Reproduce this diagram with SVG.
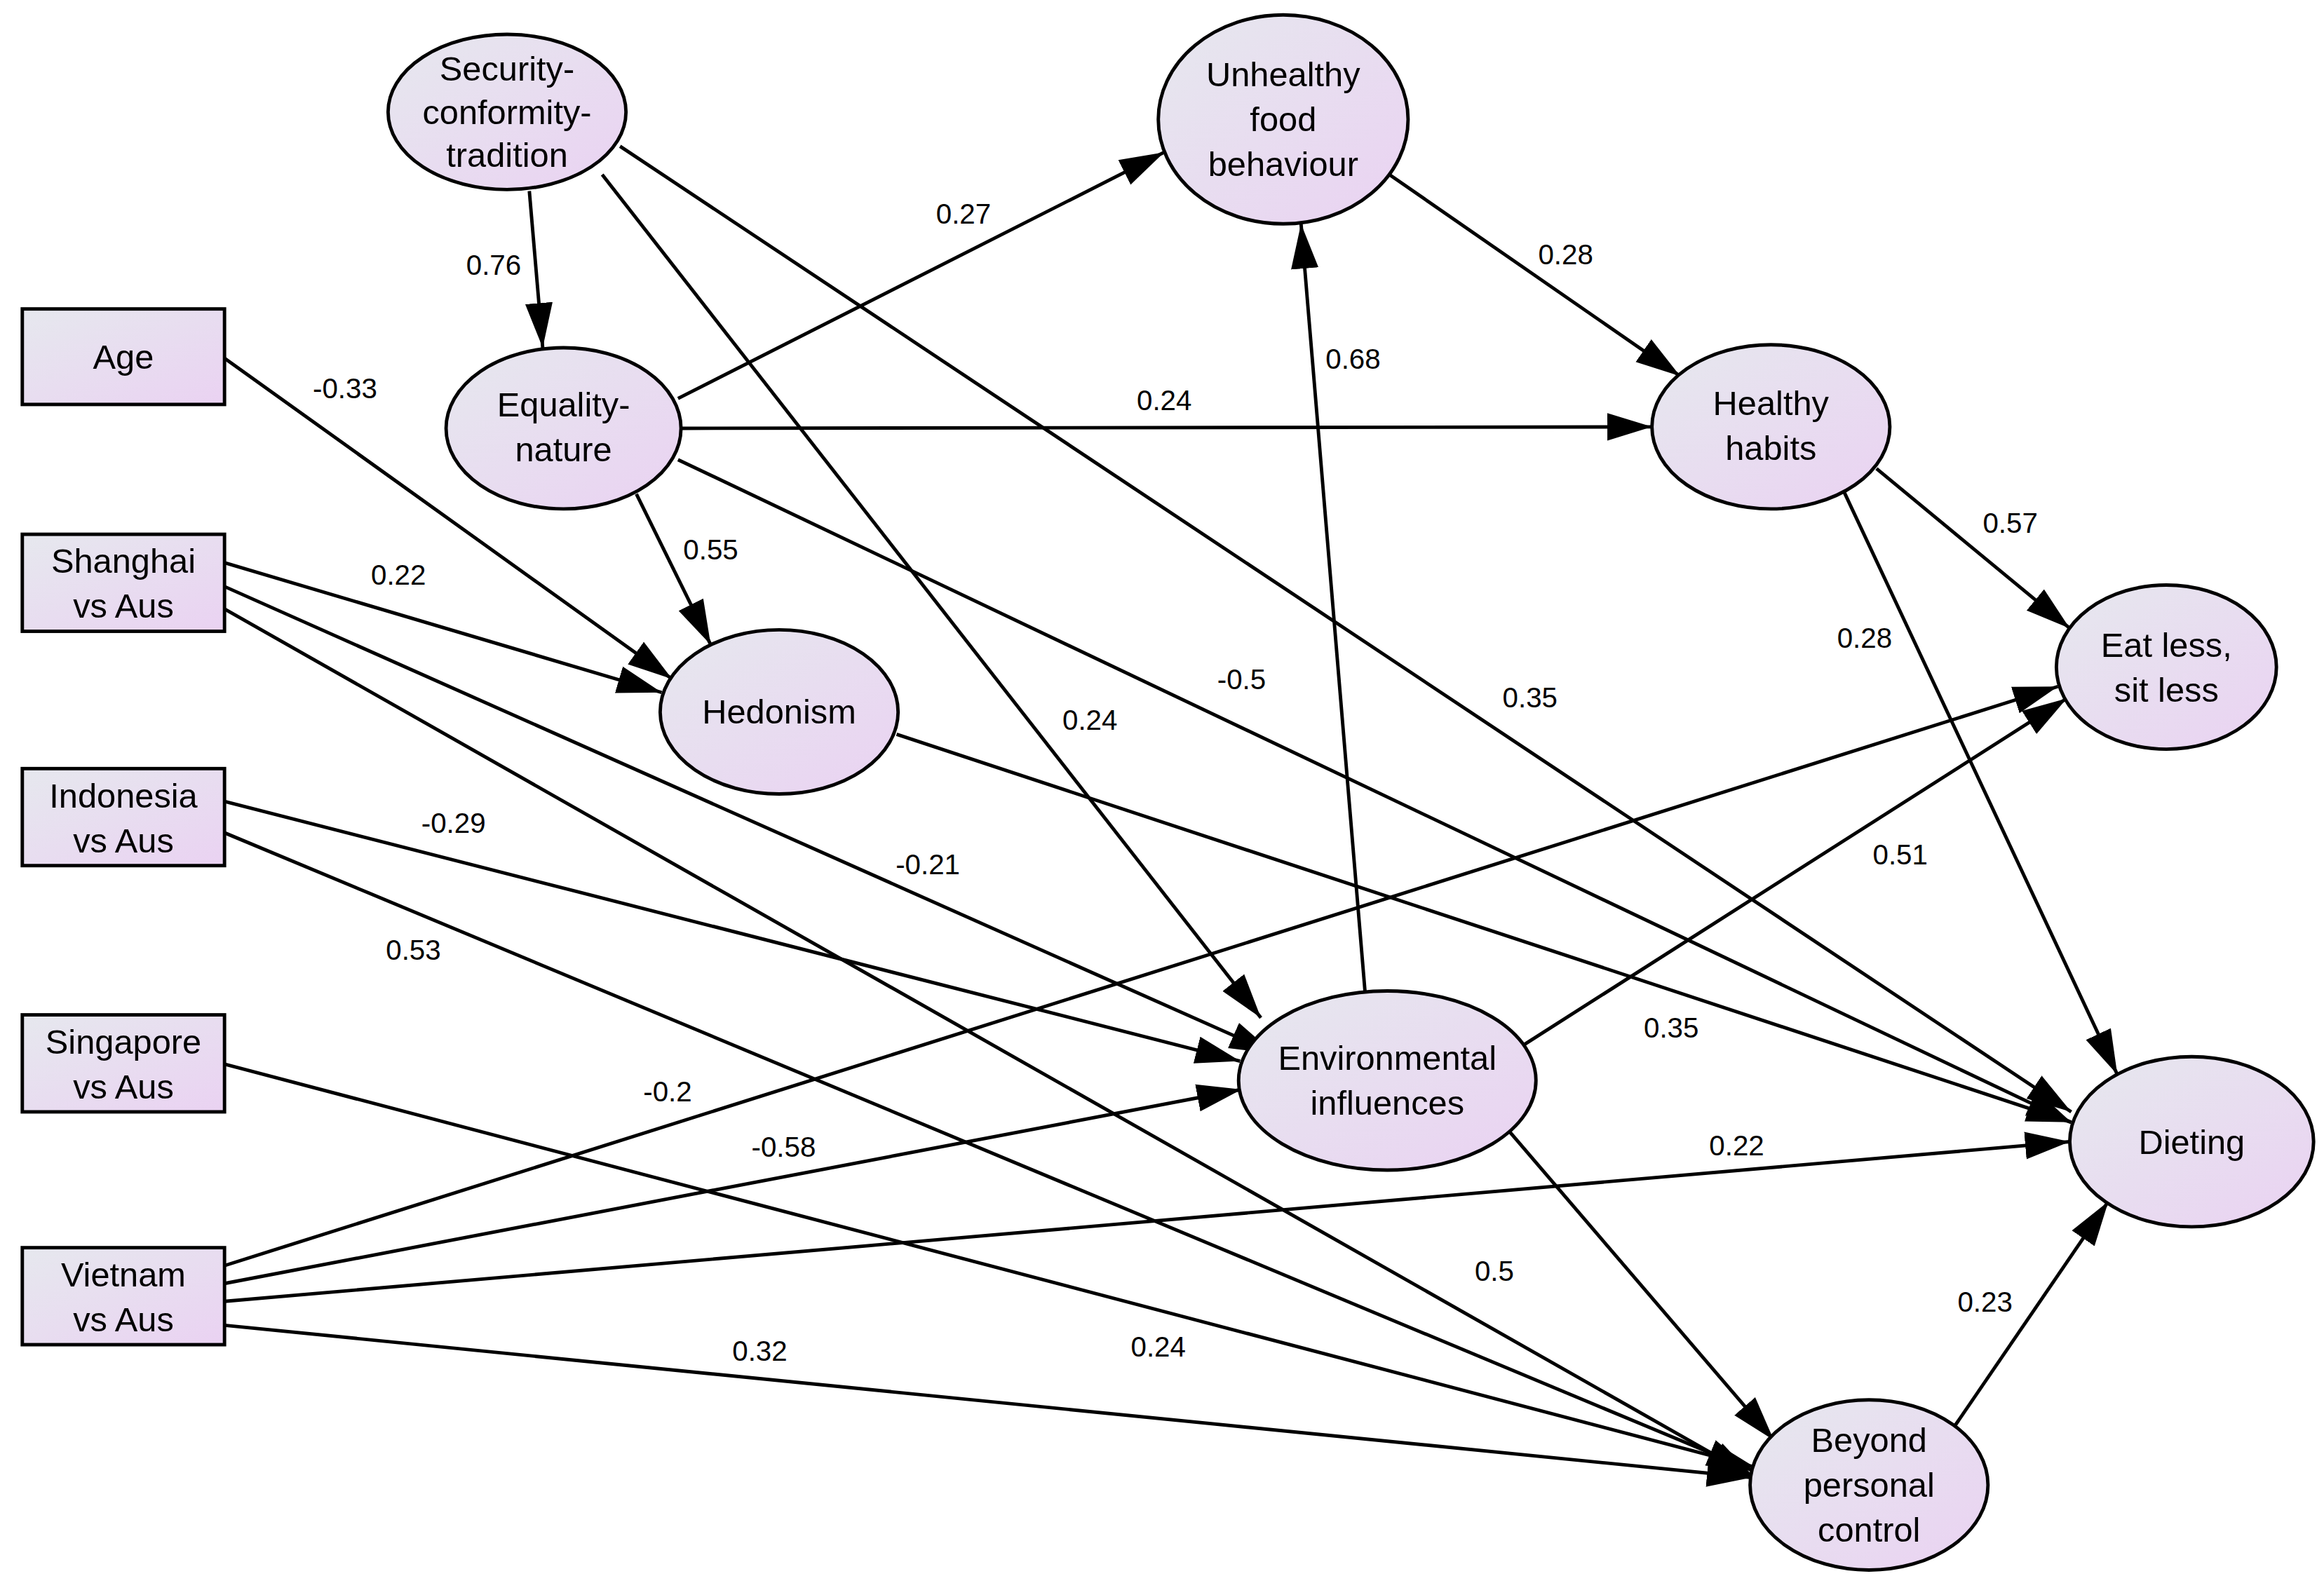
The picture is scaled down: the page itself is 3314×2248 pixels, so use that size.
<svg xmlns="http://www.w3.org/2000/svg" width="3314" height="2248" viewBox="0 0 3314 2248">
<defs>
<linearGradient id="g" x1="0" y1="0" x2="1" y2="1">
<stop offset="0" stop-color="#e6e8ee"/>
<stop offset="1" stop-color="#ead2f2"/>
</linearGradient>
<marker id="a" markerUnits="userSpaceOnUse" markerWidth="30" markerHeight="20" refX="26" refY="8" orient="auto" viewBox="0 0 26 16">
<path d="M0,0 L26,8 L0,16 Z" fill="#000"/>
</marker>
<style>
.n{fill:url(#g);stroke:#000;stroke-width:2.3}
.t{font-family:"Liberation Sans",Arial,sans-serif;font-size:23px;text-anchor:middle;fill:#000}
.l{font-family:"Liberation Sans",Arial,sans-serif;font-size:19px;text-anchor:middle;fill:#000}
.e line{stroke:#000;stroke-width:2.3;marker-end:url(#a)}
</style>
</defs>
<rect width="3314" height="2248" fill="#fff"/>
<g transform="scale(2.1203,2.1288)">
<g id="connectors" class="e">
<line x1="356" y1="128" x2="365" y2="233"/>
<line x1="456" y1="267" x2="783" y2="102"/>
<line x1="405" y1="117" x2="848" y2="682"/>
<line x1="417" y1="98" x2="1393" y2="745"/>
<line x1="458" y1="287" x2="1111" y2="286"/>
<line x1="428" y1="331" x2="478" y2="432"/>
<line x1="456" y1="308" x2="1393" y2="752"/>
<line x1="151" y1="240" x2="452" y2="455"/>
<line x1="151" y1="377" x2="445" y2="464"/>
<line x1="151" y1="393" x2="857" y2="706"/>
<line x1="151" y1="408" x2="1180" y2="990"/>
<line x1="933" y1="116" x2="1130" y2="252"/>
<line x1="918" y1="664" x2="875" y2="150"/>
<line x1="603" y1="492" x2="1393" y2="752"/>
<line x1="1262" y1="314" x2="1392" y2="421"/>
<line x1="1239" y1="327" x2="1424" y2="720"/>
<line x1="151" y1="537" x2="834" y2="711"/>
<line x1="151" y1="558" x2="1178" y2="985"/>
<line x1="1025" y1="700" x2="1390" y2="468"/>
<line x1="151" y1="713" x2="1180" y2="983"/>
<line x1="151" y1="848" x2="1384" y2="460"/>
<line x1="151" y1="860" x2="835" y2="730"/>
<line x1="151" y1="872" x2="1392" y2="765"/>
<line x1="151" y1="888" x2="1178" y2="990"/>
<line x1="1015" y1="758" x2="1193" y2="965"/>
<line x1="1315" y1="955" x2="1418" y2="805"/>
</g>
<g id="labels">
<text class="l" x="332" y="184">0.76</text>
<text class="l" x="648" y="150">0.27</text>
<text class="l" x="733" y="489">0.24</text>
<text class="l" x="1029" y="474">0.35</text>
<text class="l" x="783" y="275">0.24</text>
<text class="l" x="478" y="375">0.55</text>
<text class="l" x="835" y="462">-0.5</text>
<text class="l" x="232" y="267">-0.33</text>
<text class="l" x="268" y="392">0.22</text>
<text class="l" x="624" y="586">-0.21</text>
<text class="l" x="1005" y="858">0.5</text>
<text class="l" x="1053" y="177">0.28</text>
<text class="l" x="910" y="247">0.68</text>
<text class="l" x="1124" y="695">0.35</text>
<text class="l" x="1352" y="357">0.57</text>
<text class="l" x="1254" y="434">0.28</text>
<text class="l" x="305" y="558">-0.29</text>
<text class="l" x="278" y="643">0.53</text>
<text class="l" x="1278" y="579">0.51</text>
<text class="l" x="779" y="909">0.24</text>
<text class="l" x="449" y="738">-0.2</text>
<text class="l" x="527" y="775">-0.58</text>
<text class="l" x="1168" y="774">0.22</text>
<text class="l" x="511" y="912">0.32</text>
<text class="l" x="1335" y="879">0.23</text>
</g>
<g id="security"><ellipse class="n" cx="341" cy="75" rx="80" ry="52"/><text class="t" x="341" y="54">Security-</text><text class="t" x="341" y="83">conformity-</text><text class="t" x="341" y="112">tradition</text></g>
<g id="unhealthy"><ellipse class="n" cx="863" cy="80" rx="84" ry="70"/><text class="t" x="863" y="58">Unhealthy</text><text class="t" x="863" y="88">food</text><text class="t" x="863" y="118">behaviour</text></g>
<g id="age"><rect class="n" x="15" y="207" width="136" height="64"/><text class="t" x="83" y="247">Age</text></g>
<g id="equality"><ellipse class="n" cx="379" cy="287" rx="79" ry="54"/><text class="t" x="379" y="279">Equality-</text><text class="t" x="379" y="309">nature</text></g>
<g id="healthy"><ellipse class="n" cx="1191" cy="286" rx="80" ry="55"/><text class="t" x="1191" y="278">Healthy</text><text class="t" x="1191" y="308">habits</text></g>
<g id="shanghai"><rect class="n" x="15" y="358" width="136" height="65"/><text class="t" x="83" y="384">Shanghai</text><text class="t" x="83" y="414">vs Aus</text></g>
<g id="hedonism"><ellipse class="n" cx="524" cy="477" rx="80" ry="55"/><text class="t" x="524" y="485">Hedonism</text></g>
<g id="eatless"><ellipse class="n" cx="1457" cy="447" rx="74" ry="55"/><text class="t" x="1457" y="440">Eat less,</text><text class="t" x="1457" y="470">sit less</text></g>
<g id="indonesia"><rect class="n" x="15" y="515" width="136" height="65"/><text class="t" x="83" y="541">Indonesia</text><text class="t" x="83" y="571">vs Aus</text></g>
<g id="singapore"><rect class="n" x="15" y="680" width="136" height="65"/><text class="t" x="83" y="706">Singapore</text><text class="t" x="83" y="736">vs Aus</text></g>
<g id="environmental"><ellipse class="n" cx="933" cy="724" rx="100" ry="60"/><text class="t" x="933" y="717">Environmental</text><text class="t" x="933" y="747">influences</text></g>
<g id="dieting"><ellipse class="n" cx="1474" cy="765" rx="82" ry="57"/><text class="t" x="1474" y="773">Dieting</text></g>
<g id="vietnam"><rect class="n" x="15" y="836" width="136" height="65"/><text class="t" x="83" y="862">Vietnam</text><text class="t" x="83" y="892">vs Aus</text></g>
<g id="beyond"><ellipse class="n" cx="1257" cy="995" rx="80" ry="57"/><text class="t" x="1257" y="973">Beyond</text><text class="t" x="1257" y="1003">personal</text><text class="t" x="1257" y="1033">control</text></g>
</g>
</svg>
